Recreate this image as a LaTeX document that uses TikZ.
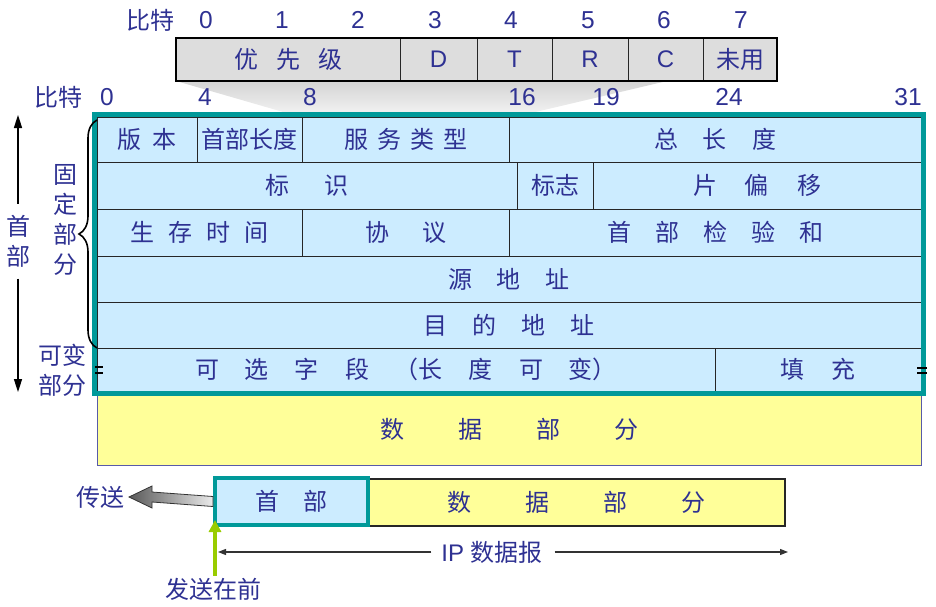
\documentclass[tikz,border=0pt]{standalone}
\usepackage{fontspec}
\setmainfont{Liberation Sans}
\newfontfamily\cjk{Noto Sans CJK SC}
\usetikzlibrary{arrows.meta,decorations.pathreplacing,calc}
\definecolor{txt}{HTML}{2E3192}
\definecolor{tealb}{HTML}{009999}
\definecolor{lblue}{HTML}{CCECFF}
\definecolor{lyel}{HTML}{FFFF99}
\definecolor{lgray}{HTML}{DDDDDD}
\definecolor{lgreen}{HTML}{99CC00}
\newcommand\gp[1]{\hspace*{#1pt}}
\newcommand\mkcell[7]{\node[#1, minimum width={#5-#3}, minimum height={#6-#4}] (#2) at ({(#3+#5)/2},{(#4+#6)/2}) {#7};}
\begin{document}
\begin{tikzpicture}[x=1pt,y=-1pt,
  every node/.style={text=txt, font=\fontsize{24}{26}\selectfont\cjk, inner sep=0pt, outer sep=0pt},
  num/.style={font=\fontsize{24.5}{26}\selectfont\rmfamily},
  cell/.style={draw=black!85, line width=0.9pt, fill=lblue},
  tcell/.style={draw=black!85, line width=1pt, fill=lgray},
  vtext/.style={align=center, font=\fontsize{24}{30}\selectfont\cjk},
  headtip/.style={-{Triangle[length=13pt,width=8pt]}, line width=1.6pt, black}
]
\useasboundingbox (0,0) rectangle (936,607);

% funnel shadow
\shade[top color=black!17, bottom color=black!5] (176,81) -- (667,81) -- (527,114) -- (290,114) -- cycle;

% top bit labels
\node at (150,20) {比特};
\foreach \b/\x in {0/206,1/282,2/358,3/435,4/511,5/588,6/664,7/741}
  \node[num] at (\x,20) {\b};

% TOS byte
\mkcell{tcell}{pri}{176}{38}{400}{81}{优\gp{18}先\gp{18}级}
\mkcell{tcell}{dd}{400}{38}{477}{81}{\rmfamily D}
\mkcell{tcell}{tt}{477}{38}{552}{81}{\rmfamily T}
\mkcell{tcell}{rr}{552}{38}{628}{81}{\rmfamily R}
\mkcell{tcell}{cc}{628}{38}{703}{81}{\rmfamily C}
\mkcell{tcell}{unused}{703}{38}{777}{81}{未用}
\draw[line width=2pt] (pri.north west) rectangle (unused.south east);

% second bit labels
\node at (58,97) {比特};
\foreach \b/\x in {0/107,4/205,8/310,16/522,19/606,24/729,31/908}
  \node[num] at (\x,97) {\b};

% data part
\mkcell{draw=txt!80, line width=0.9pt, fill=lyel}{data}{97}{393}{921}{465}{数\gp{54}据\gp{54}部\gp{54}分}

% header cells
\mkcell{cell}{ver}{97}{117}{197}{162}{版\gp{11}本}
\mkcell{cell}{ihl}{197}{117}{302}{162}{首部长度}
\mkcell{cell}{tos}{302}{117}{509}{162}{服\gp{9}务\gp{9}类\gp{9}型}
\mkcell{cell}{tlen}{509}{117}{921}{162}{总\gp{25}长\gp{25}度}
\mkcell{cell}{ident}{97}{162}{517}{209}{标\gp{35}识}
\mkcell{cell}{flags}{517}{162}{593}{209}{标志}
\mkcell{cell}{frag}{593}{162}{921}{209}{片\gp{28}偏\gp{28}移}
\mkcell{cell}{ttl}{97}{209}{302}{256}{生\gp{14}存\gp{14}时\gp{14}间}
\mkcell{cell}{proto}{302}{209}{509}{256}{协\gp{33}议}
\mkcell{cell}{cksum}{509}{209}{921}{256}{首\gp{24}部\gp{24}检\gp{24}验\gp{24}和}
\mkcell{cell}{src}{97}{256}{921}{302}{源\gp{25}地\gp{25}址}
\mkcell{cell}{dst}{97}{302}{921}{348}{目\gp{25}的\gp{25}地\gp{25}址}
\mkcell{cell}{opt}{97}{348}{715}{391}{可\gp{26}选\gp{26}字\gp{26}段\gp{26}（长\gp{26}度\gp{26}可\gp{26}变）}
\mkcell{cell}{pad}{715}{348}{921}{391}{填\gp{28}充}
\draw[tealb, line width=5pt] (ver.north west) ++(-2.5,-2.5) rectangle ($(pad.south east)+(2.5,2.5)$);

% break marks
\draw[black, line width=1.2pt] (95,367) -- (103,367) (95,373) -- (103,373);
\draw[black, line width=1.2pt] (917,368) -- (927,368) (917,373) -- (927,373);

% left annotations
\coordinate (atop) at (18,115);
\coordinate (abot) at (18,392);
\node[vtext, minimum height=75pt] (hd) at (18,241) {首\\部};
\draw[headtip] (hd.north) -- (atop);
\draw[headtip] (hd.south) -- (abot);
\draw[line width=1.6pt, decorate, decoration={brace, amplitude=18pt}] (97,348) -- (97,120);
\node[vtext] (fixed) at (65,220) {固\\定\\部\\分};
\node[vtext] (var) at (62,370) {可变\\部分};

% bottom datagram
\mkcell{draw=black!85, line width=1.5pt, fill=lyel}{bdata}{368}{479}{785}{526}{数\gp{54}据\gp{54}部\gp{54}分}
\mkcell{draw=tealb, line width=4pt, fill=lblue}{bhdr}{215}{478}{368}{525}{首\gp{24}部}

\node (send) at (100,497) {传送};
\shade[left color=black!65, right color=black!8, draw=black!80, line width=0.8pt]
  ($(bhdr.west)+(-2,-5)$) -- (152,492) -- (152,486) -- (129,497) -- (152,508) -- (152,502) -- ($(bhdr.west)+(-2,5)$) -- cycle;

\node (first) at (213,589) {发送在前};
\draw[lgreen, line width=4pt, -{Triangle[length=12pt,width=12pt]}] (first.north -| bhdr.south west) ++(0,-2) -- ($(bhdr.south west)+(0,-5)$);

\node (ipd) at (492,552) {\rmfamily IP\ \cjk 数据报};
\coordinate (ipl) at (218,552);
\coordinate (ipr) at (788,552);
\draw[black!80, line width=1.2pt, -{Triangle[length=8pt,width=6pt]}] ($(ipd.west)+(-10,0)$) -- (ipl);
\draw[black!80, line width=1.2pt, -{Triangle[length=8pt,width=6pt]}] ($(ipd.east)+(12,0)$) -- (ipr);
\end{tikzpicture}
\end{document}
